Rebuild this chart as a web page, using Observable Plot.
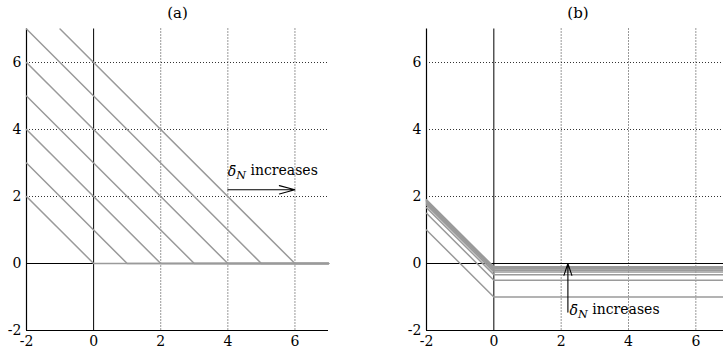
<!DOCTYPE html>
<html>
<head>
<meta charset="utf-8">
<script src="https://cdn.jsdelivr.net/npm/d3@7"></script>
<script src="https://cdn.jsdelivr.net/npm/@observablehq/plot@0.6"></script>
<style>
  html, body { margin: 0; padding: 0; background: white; }
  #wrap { position: relative; width: 723px; height: 354px; overflow: hidden; background: white; }
  #pa { position: absolute; left: 0; top: 0; width: 360px; height: 354px; }
  #pb { position: absolute; left: 360px; top: 0; width: 369px; height: 354px; }
  #wrap svg { max-width: none !important; height: 354px !important; }
  #wrap svg, #wrap svg text, #wrap svg tspan { font-family: "DejaVu Serif", "Liberation Serif", serif !important; }
</style>
</head>
<body>
<div id="wrap"><div id="pa"></div><div id="pb"></div></div>
<script>
// ---- data ----
const panelTitles = ["(a)", "(b)"];
const xTicks = [-2, 0, 2, 4, 6];
const yTicks = [-2, 0, 2, 4, 6];
const gridVals = [2, 4, 6];
const xDomain = [-2, 7];
const yDomain = [-2, 7];

// panel (a): lines descending with slope -1, then flat at 0
const aStartX = [-2, -2, -2, -2, -2, -2, -1];
const aStartY = [2, 3, 4, 5, 6, 7, 7];
const aKinkX  = [0, 1, 2, 3, 4, 5, 6];
const aEndX = 7;

// panel (b): lines descending to x = 0, then flat at level
const bStartY = [1.0, 1.5, 1.667, 1.75, 1.8, 1.833, 1.857, 1.875, 1.889, 1.9];
const bLevel  = [-1.0, -0.5, -0.333, -0.25, -0.2, -0.167, -0.143, -0.125, -0.111, -0.1];
const bStartX = -2, bKinkX = 0, bEndX = 7;

// annotations
const labelText = "δ̄N increases";
const arrowA = {x1: 4, y1: 2.2, x2: 6, y2: 2.2};
const labelA = {x: 4, y: 2.76};
const arrowB = {x1: 2.2, y1: -1.45, x2: 2.2, y2: 0};
const labelB = {x: 2.25, y: -1.39};

// ---- build line tables ----
const aLines = [];
aKinkX.forEach((k, i) => {
  aLines.push({id: i, x: aStartX[i], y: aStartY[i]});
  aLines.push({id: i, x: k, y: 0});
  aLines.push({id: i, x: aEndX, y: 0});
});
const bLines = [];
bLevel.forEach((lv, i) => {
  bLines.push({id: i, x: bStartX, y: bStartY[i]});
  bLines.push({id: i, x: bKinkX, y: lv});
  bLines.push({id: i, x: bEndX, y: lv});
});

const gray = "#9a9a9a";

function makePanel(title, lines, arrow, label, opts) {
  return Plot.plot({
    width: opts.width,
    height: 354,
    marginLeft: opts.ml,
    marginRight: opts.mr,
    marginTop: 28.5,
    marginBottom: 24,
    x: {domain: xDomain},
    y: {domain: yDomain},
    style: "font-size: 14px; background: white; overflow: visible;",
    marks: [
      Plot.ruleX(gridVals, {stroke: "#333", strokeDasharray: "1,2", strokeWidth: 1}),
      Plot.ruleY(gridVals, {stroke: "#333", strokeDasharray: "1,2", strokeWidth: 1}),
      Plot.ruleX([0], {stroke: "black", strokeWidth: 1}),
      Plot.ruleY([0], {stroke: "black", strokeWidth: 1}),
      Plot.ruleX([xDomain[0]], {stroke: "black", strokeWidth: 1.2}),
      Plot.ruleY([yDomain[0]], {stroke: "black", strokeWidth: 1.2}),
      Plot.line(lines, {x: "x", y: "y", z: "id", stroke: gray, strokeWidth: 1.5}),
      Plot.arrow([arrow], {x1: "x1", y1: "y1", x2: "x2", y2: "y2", stroke: "black", strokeWidth: 1.1,
        headLength: opts.headLength, headAngle: opts.headAngle}),
      Plot.text([label], {x: "x", y: "y", text: () => labelText, textAnchor: "start", fontSize: 14, fill: "black"}),
      Plot.text([title], {frameAnchor: "top", dy: -16, text: d => d, fontSize: 15, fill: "black", lineAnchor: "middle"}),
      Plot.axisX({ticks: xTicks, tickSize: 0, tickPadding: 6, fontSize: 14, tickFormat: d => String(d)}),
      Plot.axisY({ticks: yTicks, tickSize: 0, tickPadding: 5, fontSize: 14, tickFormat: d => String(d)})
    ]
  });
}

function fixLabels(svg) {
  svg.querySelectorAll("text").forEach(t => {
    if (t.textContent === labelText) {
      t.textContent = "";
      const sel = d3.select(t);
      sel.append("tspan").attr("font-style", "italic").text("δ̄");
      sel.append("tspan").attr("font-style", "italic").attr("dy", "0.3em").attr("font-size", "0.8em").text("N");
      sel.append("tspan").attr("dy", "-0.3em").text(" increases");
    }
  });
}

const pa = makePanel(panelTitles[0], aLines, arrowA, labelA, {width: 360, ml: 26, mr: 32, headLength: 22, headAngle: 30});
const pb = makePanel(panelTitles[1], bLines, arrowB, labelB, {width: 369, ml: 66, mr: 0, headLength: 17, headAngle: 37});
fixLabels(pa); fixLabels(pb);
document.getElementById("pa").appendChild(pa);
document.getElementById("pb").appendChild(pb);
</script>
</body>
</html>
